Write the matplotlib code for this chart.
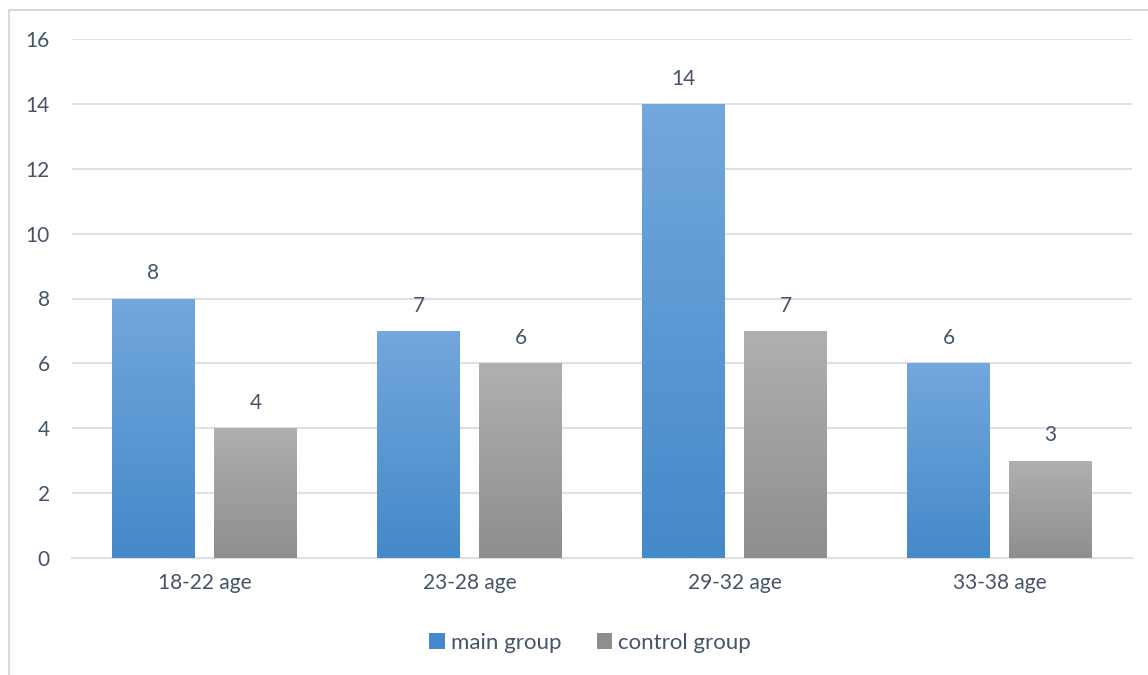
import matplotlib

matplotlib.use("Agg")

import matplotlib.pyplot as plt
import numpy as np
from matplotlib.colors import LinearSegmentedColormap
from matplotlib.lines import Line2D
from matplotlib.patches import Patch

categories = ["18-22 age", "23-28 age", "29-32 age", "33-38 age"]
main_group = [8, 7, 14, 6]
control_group = [4, 6, 7, 3]
series_names = ["main group", "control group"]
y_ticks = [0, 2, 4, 6, 8, 10, 12, 14, 16]

TEXT_COLOR = "#44546A"
GRID_COLOR = "#DDE1E6"
BLUE_TOP, BLUE_BOTTOM = "#73A7DD", "#4489C9"
GRAY_TOP, GRAY_BOTTOM = "#B0B0B0", "#8E8E8E"
BAR_WIDTH = 0.313
OFFSET = 0.1925

plt.rcParams["font.family"] = ["Lato", "DejaVu Sans"]


def _gradient_fill(ax, bars, top, bottom):
    cmap = LinearSegmentedColormap.from_list("grad", [bottom, top])
    grad = np.linspace(0, 1, 256).reshape(-1, 1)
    for bar in bars:
        x0 = bar.get_x()
        w = bar.get_width()
        h = bar.get_height()
        im = ax.imshow(
            grad,
            cmap=cmap,
            origin="lower",
            extent=(x0, x0 + w, 0, h),
            aspect="auto",
            zorder=3,
        )
        im.set_clip_path(bar)
        bar.set_facecolor("none")


fig = plt.figure(figsize=(11.48, 6.75), dpi=100)
ax = fig.add_axes([72 / 1148, 1 - 558 / 675, 1060 / 1148, 519 / 675])

x = np.arange(len(categories))
bars_main = ax.bar(x - OFFSET, main_group, width=BAR_WIDTH, color=BLUE_BOTTOM, zorder=3, linewidth=0)
bars_ctrl = ax.bar(x + OFFSET, control_group, width=BAR_WIDTH, color=GRAY_BOTTOM, zorder=3, linewidth=0)
_gradient_fill(ax, bars_main, BLUE_TOP, BLUE_BOTTOM)
_gradient_fill(ax, bars_ctrl, GRAY_TOP, GRAY_BOTTOM)

for bars, vals in ((bars_main, main_group), (bars_ctrl, control_group)):
    for bar, v in zip(bars, vals):
        ax.annotate(
            str(v),
            (bar.get_x() + bar.get_width() / 2, v),
            xytext=(0, 11),
            textcoords="offset points",
            ha="center",
            va="bottom",
            fontsize=15,
            color=TEXT_COLOR,
        )

ax.set_xlim(-0.5, len(categories) - 0.5)
ax.set_ylim(0, 16)
ax.set_yticks(y_ticks)
ax.set_xticks(x)
ax.set_xticklabels(categories)
ax.tick_params(axis="both", length=0, labelsize=15, labelcolor=TEXT_COLOR)
ax.tick_params(axis="y", pad=16)
ax.tick_params(axis="x", pad=11)
ax.yaxis.grid(True, color=GRID_COLOR, linewidth=1.5, zorder=0)
ax.set_axisbelow(True)
for side in ("top", "right", "left"):
    ax.spines[side].set_visible(False)
ax.spines["bottom"].set_color(GRID_COLOR)
ax.spines["bottom"].set_linewidth(1.5)

# outer chart frame (only left and top edges visible in the crop)
fig.add_artist(Line2D([9 / 1148, 9 / 1148], [0, 1 - 10 / 675], transform=fig.transFigure,
                      color="#D9D9D9", linewidth=1.5))
fig.add_artist(Line2D([9 / 1148, 1], [1 - 10 / 675, 1 - 10 / 675], transform=fig.transFigure,
                      color="#D9D9D9", linewidth=1.5))

handles = [
    Patch(facecolor=BLUE_BOTTOM, edgecolor="none"),
    Patch(facecolor=GRAY_BOTTOM, edgecolor="none"),
]
fig.legend(
    handles,
    series_names,
    loc="center",
    bbox_to_anchor=(590 / 1148, 1 - 643 / 675),
    ncol=2,
    frameon=False,
    fontsize=16,
    labelcolor=TEXT_COLOR,
    handlelength=0.7,
    handleheight=0.7,
    handletextpad=0.25,
    columnspacing=1.6,
)

fig.savefig("out.png", dpi=100)
